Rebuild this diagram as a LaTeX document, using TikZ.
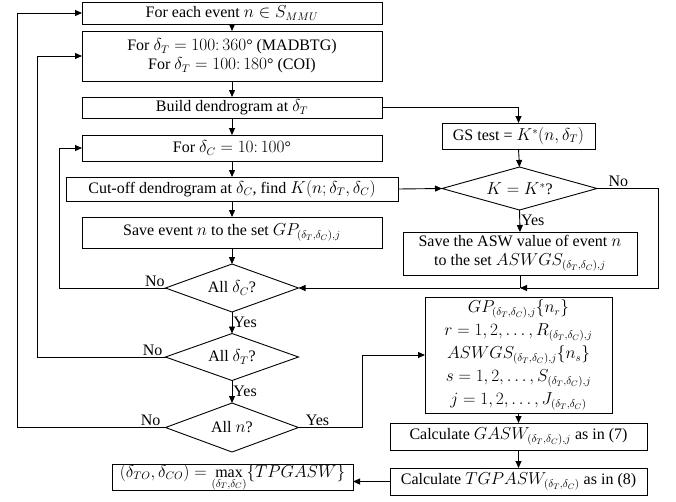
\documentclass[tikz,border=0pt]{standalone}
\usepackage{fontspec}
\setmainfont{Liberation Serif}
\usetikzlibrary{shapes.geometric,arrows.meta}
\begin{document}
\begin{tikzpicture}[x=1pt,y=-1pt,
  every node/.style={font=\fontsize{16}{19}\selectfont},
  box/.style={draw,line width=0.9pt,inner sep=0pt,outer sep=0pt,align=center},
  dia/.style={draw,diamond,line width=0.9pt,inner sep=0pt,outer sep=0pt},
  arr/.style={line width=0.9pt,-{Triangle[length=7pt,width=6pt]}},
  ln/.style={line width=0.9pt},
  lbl/.style={inner sep=1pt}]
\useasboundingbox (0,0) rectangle (676,501);
% left column
\node[box,minimum width=300pt,minimum height=22pt] (b1) at (232,13) {For each event $n\in S_{MMU}$};
\node[box,minimum width=300pt,minimum height=50pt] (b2) at (232,56) {For $\delta_T = 100\colon 360$° (MADBTG)\\For $\delta_T = 100\colon 180$° (COI)};
\node[box,minimum width=300pt,minimum height=21pt] (b3) at (232,107.5) {Build dendrogram at $\delta_T$};
\node[box,minimum width=300pt,minimum height=26pt] (b4) at (232,148) {For $\delta_C = 10\colon 100$°};
\node[box,minimum width=332pt,minimum height=24pt] (b5) at (232,189) {Cut-off dendrogram at $\delta_C$, find $K(n;\delta_T,\delta_C)$};
\node[box,minimum width=300pt,minimum height=31pt] (b6) at (232,232.5) {Save event $n$ to the set $GP_{(\delta_T,\delta_C),j}$};
\node[dia,minimum width=133pt,minimum height=48pt] (dC) at (232,288) {};
\node at (dC) {All $\delta_C$?};
\node[dia,minimum width=133pt,minimum height=47pt] (dT) at (232,357) {};
\node at (dT) {All $\delta_T$?};
\node[dia,minimum width=133pt,minimum height=49pt] (dn) at (232,427.5) {};
\node at (dn) {All $n$?};
\node[box,minimum width=241pt,minimum height=25pt] (fin) at (232.5,477.5) {$(\delta_{TO},\delta_{CO}) = \max\limits_{(\delta_T,\delta_C)}\{TPGASW\}$};
% right column
\node[box,minimum width=153pt,minimum height=26pt] (gs) at (518.5,136) {GS test = $K^*(n,\delta_T)$};
\node[dia,minimum width=155pt,minimum height=43pt] (kk) at (519.5,188.5) {};
\node at (kk) {$K = K^*$?};
\node[box,minimum width=234pt,minimum height=43pt] (asw) at (520,253.5) {Save the ASW value of event $n$\\to the set $ASWGS_{(\delta_T,\delta_C),j}$};
\node[box,minimum width=187pt,minimum height=116pt,font=\fontsize{16}{23}\selectfont] (gp) at (518.5,355) {$GP_{(\delta_T,\delta_C),j}\{n_r\}$\\$r = 1, 2, \ldots, R_{(\delta_T,\delta_C),j}$\\$ASWGS_{(\delta_T,\delta_C),j}\{n_s\}$\\$s = 1, 2, \ldots, S_{(\delta_T,\delta_C),j}$\\$j = 1, 2, \ldots, J_{(\delta_T,\delta_C)}$};
\node[box,minimum width=257pt,minimum height=27pt] (gasw) at (518.5,436.5) {Calculate $GASW_{(\delta_T,\delta_C),j}$ as in (7)};
\node[box,minimum width=257pt,minimum height=27pt] (tgp) at (518.5,481.5) {Calculate $TGPASW_{(\delta_T,\delta_C)}$ as in (8)};
% main flow
\draw[arr] (b1.south) -- (b2.north);
\draw[arr] (b2.south) -- (b3.north);
\draw[arr] (b3.south) -- (b4.north);
\draw[arr] (b4.south) -- (b5.north);
\draw[arr] (b5.south) -- (b6.north);
\draw[arr] (b6.south) -- (dC.north);
\draw[arr] (dC.south) -- node[right,lbl] {Yes} (dT.north);
\draw[arr] (dT.south) -- node[right,lbl] {Yes} (dn.north);
% loops back
\draw[arr] (dC.west) -- ++(-106.5,0) node[pos=0.1,above,lbl] {No} |- (b4.west);
\draw[arr] (dT.west) -- ++(-128.5,0) node[pos=0.1,above,lbl] {No} |- (b2.west);
\draw[arr] (dn.west) -- ++(-148.5,0) node[pos=0.1,above,lbl] {No} |- (b1.west);
% right branch
\draw[arr] (b3.east) -| (gs.north);
\draw[arr] (gs.south) -- (kk.north);
\draw[arr] (b5.east) -- (kk.west);
\draw[arr] (kk.south) -- node[right,lbl,pos=0.45] {Yes} (asw.north);
\coordinate (j) at (asw.south |- dC.east);
\draw[arr] (kk.east) -- ++(61,0) node[pos=0.35,above,lbl] {No} |- (j);
\draw[ln] (asw.south) -- (j);
\draw[arr] (j) -- (dC.east);
\draw[arr] (dn.east) -- ++(63.5,0) node[pos=0.3,above,lbl] {Yes} |- (gp.west);
\draw[arr] (gp.south) -- (gasw.north);
\draw[arr] (gasw.south) -- (tgp.north);
\draw[arr] (tgp.west) -- (fin.east |- tgp.west);
\end{tikzpicture}
\end{document}
